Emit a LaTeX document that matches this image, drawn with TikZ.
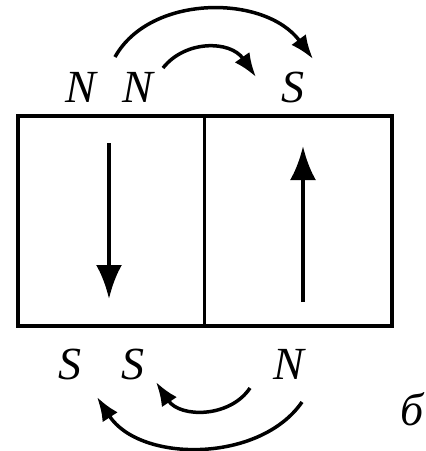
\documentclass[tikz,border=0pt]{standalone}
\usepackage{fontspec}
\setmainfont{Liberation Serif}[ItalicFont={Liberation Serif Italic}]
\newfontfamily\poleit{Liberation Serif Italic}
\usetikzlibrary{arrows.meta}
\begin{document}
\begin{tikzpicture}[x=1pt,y=-1pt,
  lbl/.style={font=\fontsize{46}{50}\selectfont\poleit, inner sep=0pt, anchor=center},
  frame/.style={line width=4pt},
  divider/.style={line width=3pt},
  bigarrow/.style={line width=4.5pt, -{Latex[length=34pt,width=26pt]}},
  arcarrow/.style={line width=3.5pt, -{Latex[length=24pt,width=18pt]}}]
\useasboundingbox (0,0) rectangle (426,451);
% magnet block
\draw[frame] (18,116) rectangle (392,326);
\draw[divider] (204,116) -- (204,326);
% magnetisation arrows
\coordinate (la1) at (109,143);
\coordinate (la2) at (109,299);
\coordinate (ra1) at (303,302);
\coordinate (ra2) at (303,146);
\draw[bigarrow] (la1) -- (la2);
\draw[bigarrow] (ra1) -- (ra2);
% pole labels
\node[lbl] (n1) at (81,87) {N};
\node[lbl] (n2) at (138,87) {N};
\node[lbl] (s1) at (293,87) {S};
\node[lbl] (s2) at (70,364) {S};
\node[lbl] (s3) at (133,364) {S};
\node[lbl] (n3) at (289,364) {N};
\node[lbl] (b) at (412,409) {б};
% flux arcs
\coordinate (t1a) at (115,57);
\coordinate (t1b) at (313,59);
\draw[arcarrow] (t1a) .. controls (150,-6) and (265,-6) .. (t1b);
\coordinate (t2a) at (163,68);
\coordinate (t2b) at (256,77);
\draw[arcarrow] (t2a) .. controls (185,40) and (230,40) .. (t2b);
\coordinate (b1a) at (250,388);
\coordinate (b1b) at (156,382);
\draw[arcarrow] (b1a) .. controls (230,418) and (180,418) .. (b1b);
\coordinate (b2a) at (302,402);
\coordinate (b2b) at (97,397);
\draw[arcarrow] (b2a) .. controls (260,463) and (140,463) .. (b2b);
\end{tikzpicture}
\end{document}
